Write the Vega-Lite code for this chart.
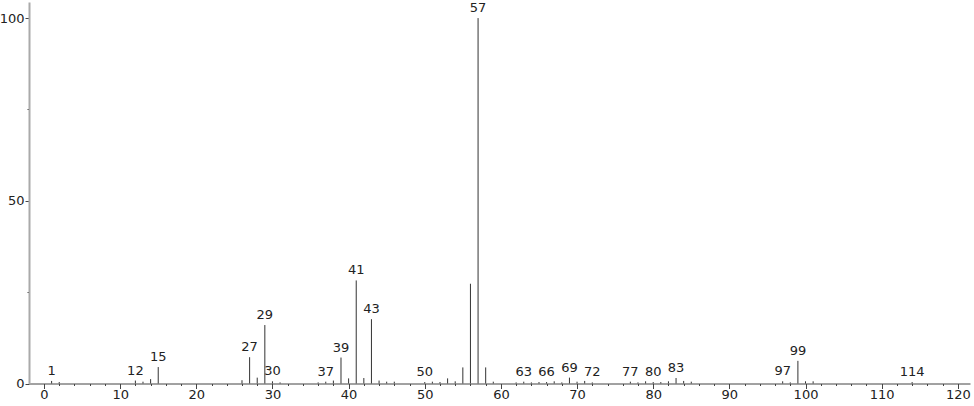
{
  "$schema": "https://vega.github.io/schema/vega-lite/v6.json",
  "autosize": "none",
  "padding": {"left": 29, "top": 2, "right": 4, "bottom": 22},
  "width": 941,
  "height": 381.5,
  "background": "white",
  "config": {"view": {"stroke": null}, "font": "DejaVu Sans"},
  "data": {"values": [
    {"mz": 1, "i": 0.7, "lab": true},
    {"mz": 2, "i": 0.4, "lab": false},
    {"mz": 12, "i": 0.8, "lab": true},
    {"mz": 13, "i": 0.5, "lab": false},
    {"mz": 14, "i": 1.2, "lab": false},
    {"mz": 15, "i": 4.5, "lab": true},
    {"mz": 26, "i": 0.9, "lab": false},
    {"mz": 27, "i": 7.2, "lab": true},
    {"mz": 28, "i": 1.6, "lab": false},
    {"mz": 29, "i": 16.0, "lab": true},
    {"mz": 30, "i": 0.6, "lab": true},
    {"mz": 31, "i": 0.3, "lab": false},
    {"mz": 36, "i": 0.3, "lab": false},
    {"mz": 37, "i": 0.5, "lab": true},
    {"mz": 38, "i": 0.8, "lab": false},
    {"mz": 39, "i": 7.1, "lab": true},
    {"mz": 40, "i": 1.4, "lab": false},
    {"mz": 41, "i": 28.2, "lab": true},
    {"mz": 42, "i": 1.5, "lab": false},
    {"mz": 43, "i": 17.6, "lab": true},
    {"mz": 44, "i": 0.8, "lab": false},
    {"mz": 45, "i": 0.5, "lab": false},
    {"mz": 46, "i": 0.5, "lab": false},
    {"mz": 50, "i": 0.4, "lab": true},
    {"mz": 51, "i": 0.5, "lab": false},
    {"mz": 52, "i": 0.4, "lab": false},
    {"mz": 53, "i": 1.4, "lab": false},
    {"mz": 54, "i": 0.6, "lab": false},
    {"mz": 55, "i": 4.4, "lab": false},
    {"mz": 56, "i": 27.3, "lab": false},
    {"mz": 57, "i": 100, "lab": true},
    {"mz": 58, "i": 4.4, "lab": false},
    {"mz": 59, "i": 0.5, "lab": false},
    {"mz": 62, "i": 0.3, "lab": false},
    {"mz": 63, "i": 0.5, "lab": true},
    {"mz": 64, "i": 0.3, "lab": false},
    {"mz": 65, "i": 0.4, "lab": false},
    {"mz": 66, "i": 0.4, "lab": true},
    {"mz": 67, "i": 0.6, "lab": false},
    {"mz": 68, "i": 0.3, "lab": false},
    {"mz": 69, "i": 1.6, "lab": true},
    {"mz": 70, "i": 0.5, "lab": false},
    {"mz": 71, "i": 0.7, "lab": false},
    {"mz": 72, "i": 0.3, "lab": true},
    {"mz": 77, "i": 0.5, "lab": true},
    {"mz": 78, "i": 0.3, "lab": false},
    {"mz": 79, "i": 0.6, "lab": false},
    {"mz": 80, "i": 0.4, "lab": true},
    {"mz": 81, "i": 0.4, "lab": false},
    {"mz": 82, "i": 0.6, "lab": false},
    {"mz": 83, "i": 1.5, "lab": true},
    {"mz": 84, "i": 0.7, "lab": false},
    {"mz": 85, "i": 0.5, "lab": false},
    {"mz": 97, "i": 0.6, "lab": true},
    {"mz": 98, "i": 0.3, "lab": false},
    {"mz": 99, "i": 6.2, "lab": true},
    {"mz": 100, "i": 0.6, "lab": false},
    {"mz": 101, "i": 0.6, "lab": false},
    {"mz": 114, "i": 0.4, "lab": true}
  ]},
  "encoding": {
    "x": {"field": "mz", "type": "quantitative",
      "scale": {"domain": [-1.97, 121.6], "nice": false, "zero": false},
      "axis": {"title": null, "values": [0,2,4,6,8,10,12,14,16,18,20,22,24,26,28,30,32,34,36,38,40,42,44,46,48,50,52,54,56,58,60,62,64,66,68,70,72,74,76,78,80,82,84,86,88,90,92,94,96,98,100,102,104,106,108,110,112,114,116,118,120],
        "labelExpr": "datum.value % 10 === 0 ? datum.label : ''",
        "tickSize": {"condition": {"test": "datum.value % 10 === 0", "value": 5}, "value": 2},
        "domainColor": "#444", "tickColor": "#444", "labelColor": "#222",
        "labelFontSize": 13, "labelPadding": 0, "grid": false, "labelFlush": false}},
    "y": {"field": "i", "type": "quantitative",
      "scale": {"domain": [0, 104.4], "nice": false},
      "axis": {"title": null, "values": [0, 25, 50, 75, 100],
        "labelExpr": "datum.value % 50 === 0 ? datum.label : ''",
        "tickSize": {"condition": {"test": "datum.value % 50 === 0", "value": 4}, "value": 2},
        "domainColor": "#aaa", "domainWidth": 2, "tickColor": "#444", "labelColor": "#222",
        "labelFontSize": 13, "labelPadding": 1, "grid": false}}
  },
  "layer": [
    {"mark": {"type": "rule", "color": "#333", "strokeWidth": 1},
     "encoding": {"y2": {"datum": 0}}},
    {"transform": [{"filter": "datum.lab"}],
     "mark": {"type": "text", "baseline": "bottom", "dy": -3, "fontSize": 13, "color": "#222"},
     "encoding": {"text": {"field": "mz", "type": "quantitative"}}}
  ]
}
